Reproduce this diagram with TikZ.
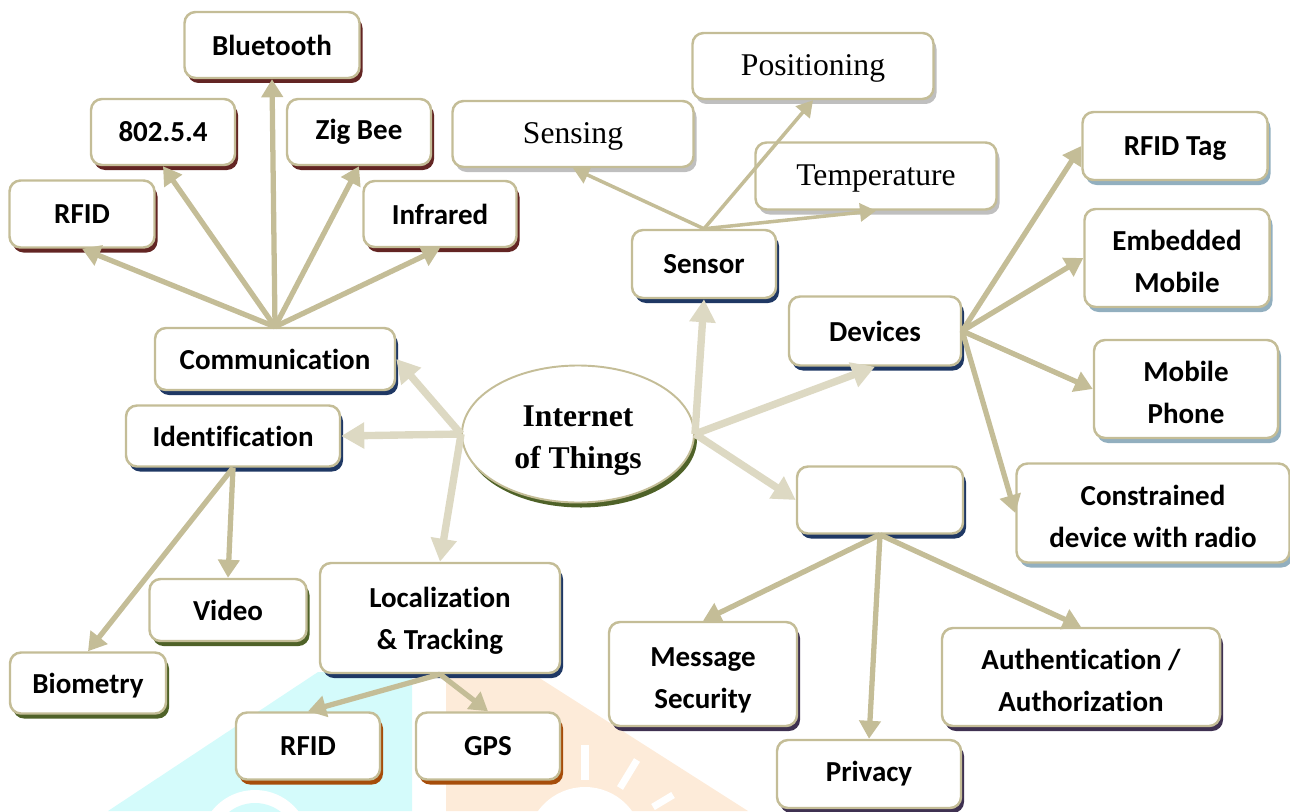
\documentclass[tikz,border=0pt]{standalone}
\usepackage{fontspec}
\setmainfont{Liberation Serif}
\newfontfamily\calib[Ligatures=NoCommon]{Carlito}
\usetikzlibrary{arrows.meta,shapes.geometric,shadows,positioning}
\definecolor{boxline}{HTML}{C4BD97}
\definecolor{hubline}{HTML}{DDD9C3}
\definecolor{shred}{HTML}{632523}
\definecolor{shblue}{HTML}{1F3864}
\definecolor{shgray}{HTML}{BFBFBF}
\definecolor{shgreen}{HTML}{4F6228}
\definecolor{shorange}{HTML}{A64D0A}
\definecolor{shsky}{HTML}{92AFBF}
\definecolor{shpurple}{HTML}{3F3151}
\definecolor{wmcyan}{HTML}{D4FBFB}
\definecolor{wmorange}{HTML}{FDEBD9}
\tikzset{
    block/.style = {draw=boxline, fill=white, rectangle,
        rounded corners=0.22cm, line width=1.4pt, inner sep=0pt,
        align=center, font=\calib\bfseries\fontsize{16.5}{24}\selectfont},
    serifblock/.style = {block, font=\fontsize{18}{24}\selectfont},
    hub/.style = {draw=boxline, fill=white, ellipse, line width=1.1pt,
        inner sep=0pt, align=center, font=\bfseries\fontsize{18}{24}\selectfont},
    sz/.style 2 args = {minimum width=#1*0.02cm, minimum height=#2*0.02cm},
    castshadow/.style = {drop shadow={shadow xshift=0.06cm,
        shadow yshift=-0.1cm, fill=#1, opacity=1}},
    arrow/.style = {draw=boxline, line width=3pt,
        -{Triangle[length=0.36cm,width=0.42cm]}},
    thinarrow/.style = {draw=boxline, line width=2pt,
        -{Triangle[length=0.32cm,width=0.36cm]}},
    mainarrow/.style = {draw=hubline, line width=4.2pt,
        -{Triangle[length=0.46cm,width=0.5cm]}}
}
% two lines of text, set a little lower in the box
\newcommand\twolines[3][0.1cm]{\raisebox{-#1}[\height][\depth]{%
    \begin{tabular}{@{}c@{}}#2\\#3\end{tabular}}}
\newcommand\oneline[1]{\raisebox{-0.05cm}[\height][\depth]{#1}}

\begin{document}
\begin{tikzpicture}[x=0.02cm, y=-0.02cm]
    \useasboundingbox (0,0) rectangle (1290,811);
    % faint watermark behind
    \fill[wmcyan] (108,811) -- (318,672) -- (412,672) -- (412,811) -- cycle;
    \fill[wmorange] (446,672) -- (530,672) -- (748,811) -- (446,811) -- cycle;
    \fill[white] (255,845) circle (55);
    \fill[wmcyan] (255,845) circle (42);
    \fill[white] (585,845) circle (58);
    \draw[white, line width=4pt] (585,745) -- (585,780);
    \draw[white, line width=4pt] (637,760) -- (620,788);
    \draw[white, line width=4pt] (673,795) -- (653,807);

    % centre
    \node [hub, castshadow=shgreen, sz={232}{137}] (iot) at (578,434) {\twolines{Internet}{of Things}};

    % communication branch
    \node [block, castshadow=shblue, sz={240}{62}] (comm) at (275,359) {Communication};
    \node [block, castshadow=shred, sz={175}{66}] (bluetooth) at (272,45) {Bluetooth};
    \node [block, castshadow=shred, sz={144}{66}] (ieee) at (163,132) {802.5.4};
    \node [block, castshadow=shred, sz={144}{66}] (zigbee) at (359,132) {Zig Bee};
    \node [block, castshadow=shred, sz={145}{67}] (rfidA) at (82,214) {RFID};
    \node [block, castshadow=shred, sz={153}{66}] (infrared) at (440,214) {Infrared};
    \foreach \leaf in {rfidA,ieee,bluetooth,zigbee,infrared}
        \draw [arrow] (comm.north) -- (\leaf.south);

    % identification branch
    \node [block, castshadow=shblue, sz={214}{61}] (ident) at (233,436) {Identification};
    \node [block, castshadow=shgreen, sz={157}{62}] (video) at (228,610) {Video};
    \node [block, castshadow=shgreen, sz={156}{61}] (biometry) at (88,683) {\oneline{Biometry}};
    \foreach \leaf in {video,biometry}
        \draw [arrow] (ident.south) -- (\leaf.north);

    % localization branch
    \node [block, castshadow=shblue, sz={240}{110}] (loc) at (440,618) {\twolines[0.04cm]{Localization}{\& Tracking}};
    \node [block, castshadow=shorange, sz={144}{67}] (rfidB) at (308,746) {RFID};
    \node [block, castshadow=shorange, sz={144}{67}] (gps) at (488,746) {GPS};
    \foreach \leaf in {rfidB,gps}
        \draw [arrow] (loc.south) -- (\leaf.north);

    % sensor branch
    \node [block, castshadow=shblue, sz={144}{68}] (sensor) at (704,264) {Sensor};
    \node [serifblock, castshadow=shgray, sz={241}{66}] (sensing) at (573,134) {\oneline{Sensing}};
    \node [serifblock, castshadow=shgray, sz={241}{66}] (positioning) at (813,66) {\oneline{Positioning}};
    \node [serifblock, castshadow=shgray, sz={241}{67}] (temperature) at (876,176) {\oneline{Temperature}};
    \foreach \leaf in {sensing,positioning,temperature}
        \draw [thinarrow] (sensor.north) -- (\leaf.south);

    % devices branch
    \node [block, castshadow=shblue, sz={172}{69}] (devices) at (875,331) {Devices};
    \node [block, castshadow=shsky, sz={185}{68}] (rfidtag) at (1175,146) {\oneline{RFID Tag}};
    \node [block, castshadow=shsky, sz={185}{98}] (embedded) at (1177,258) {\twolines{Embedded}{Mobile}};
    \node [block, castshadow=shsky, sz={184}{98}] (phone) at (1186,389) {\twolines{Mobile}{Phone}};
    \node [block, castshadow=shsky, sz={273}{99}] (constrained) at (1153,513) {\twolines{Constrained}{device with radio}};
    \foreach \leaf in {rfidtag,embedded,phone,constrained}
        \draw [arrow] (devices.east) -- (\leaf.west);

    % security branch (box left blank)
    \node [block, castshadow=shblue, sz={166}{67}] (secbox) at (880,500) {};
    \node [block, castshadow=shpurple, sz={188}{104}] (message) at (703,674) {\twolines{Message}{Security}};
    \node [block, castshadow=shpurple, sz={184}{68}] (privacy) at (869,774) {Privacy};
    \node [block, castshadow=shpurple, sz={278}{98}] (auth) at (1081,677) {\twolines{Authentication /}{Authorization}};
    \foreach \leaf in {message,privacy,auth}
        \draw [arrow] (secbox.south) -- (\leaf.north);

    % from the centre
    \foreach \leaf/\side in {comm/east,ident/east,loc/north}
        \draw [mainarrow] (iot.west) -- (\leaf.\side);
    \foreach \leaf/\side in {sensor/south,devices/south,secbox/west}
        \draw [mainarrow] (iot.east) -- (\leaf.\side);
\end{tikzpicture}
\end{document}
